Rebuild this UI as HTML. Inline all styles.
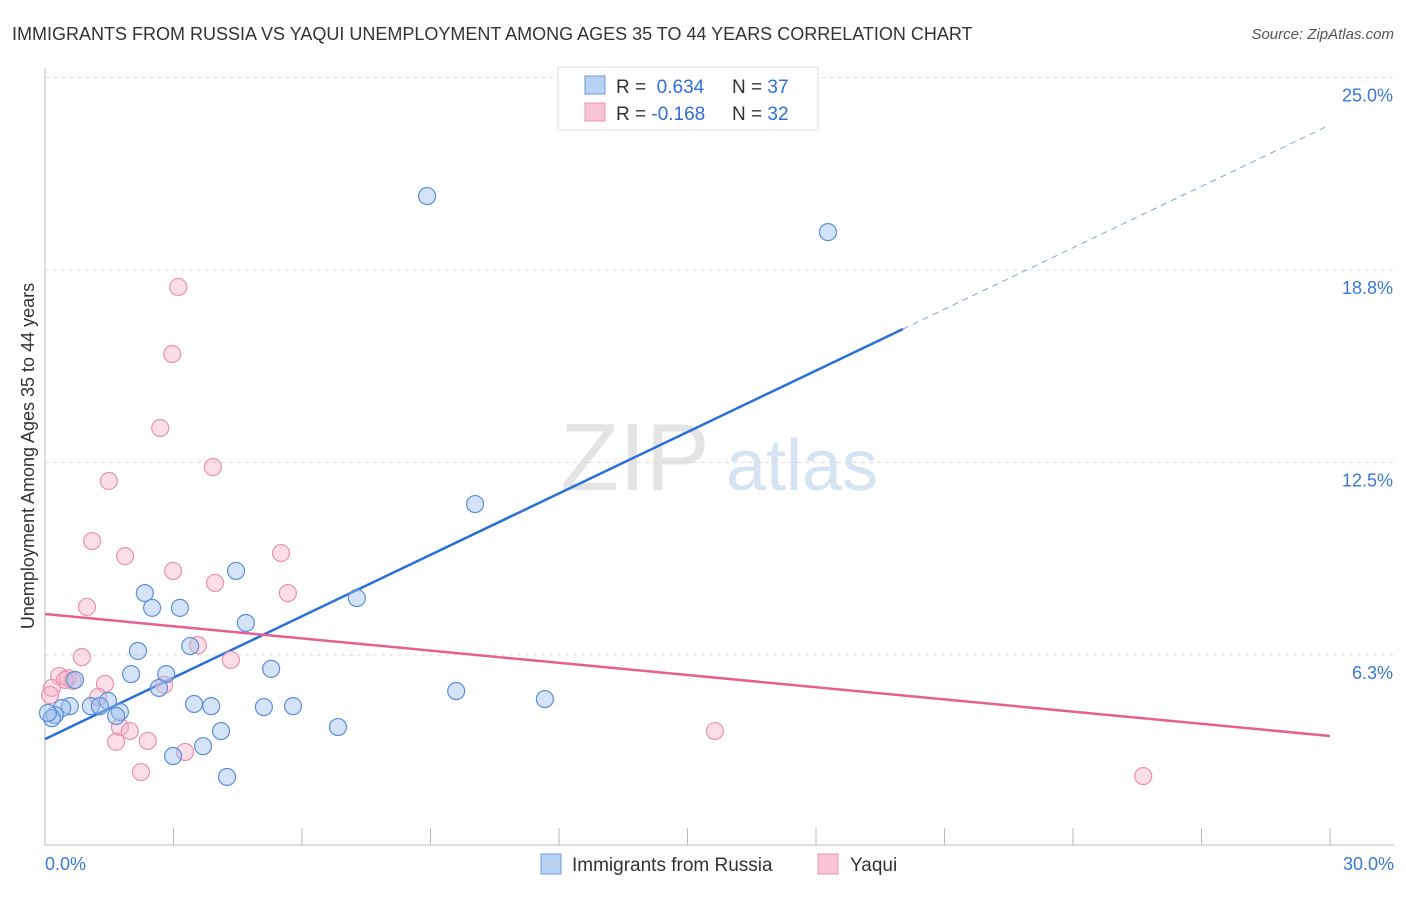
<!DOCTYPE html>
<html><head><meta charset="utf-8"><style>
body{margin:0;background:#fff;font-family:"Liberation Sans",sans-serif;}
svg text{font-family:"Liberation Sans",sans-serif;}
</style></head><body>
<svg id="c" width="1406" height="892" xmlns="http://www.w3.org/2000/svg">
<text x="12" y="40" font-size="18" fill="#333">IMMIGRANTS FROM RUSSIA VS YAQUI UNEMPLOYMENT AMONG AGES 35 TO 44 YEARS CORRELATION CHART</text>
<text x="1394" y="39" font-size="15" fill="#555" text-anchor="end" font-style="italic">Source: ZipAtlas.com</text>
<text x="635" y="490" font-size="96" fill="#e4e4e4" font-family="Liberation Serif" text-anchor="middle">ZIP</text>
<text x="802" y="490" font-size="72" fill="#d6e3f3" text-anchor="middle">atlas</text>
<text transform="translate(34,456) rotate(-90)" font-size="18" fill="#333" text-anchor="middle">Unemployment Among Ages 35 to 44 years</text>
<g id="grid"></g><g id="axes"></g><g id="lines"></g><g id="pts"></g>
<g>
<rect x="558" y="67" width="260" height="63" fill="#fff" stroke="#ddd"/>
<rect x="585" y="76" width="20" height="18" fill="#b9d1f3" stroke="#6d9be0"/>
<rect x="585" y="103" width="20" height="18" fill="#f9c5d4" stroke="#eb97b3"/>
<text x="616" y="93" font-size="19" fill="#333">R = <tspan fill="#2e6fd8">&#160;0.634</tspan><tspan x="732">N = </tspan><tspan fill="#2e6fd8">37</tspan></text>
<text x="616" y="120" font-size="19" fill="#333">R = <tspan fill="#2e6fd8">-0.168</tspan><tspan x="732">N = </tspan><tspan fill="#2e6fd8">32</tspan></text>
</g>
<g>
<rect x="541" y="854" width="20" height="20" fill="#b9d1f3" stroke="#6d9be0"/>
<text x="572" y="871" font-size="19" fill="#333">Immigrants from Russia</text>
<rect x="818" y="854" width="20" height="20" fill="#f9c5d4" stroke="#eb97b3"/>
<text x="850" y="871" font-size="19" fill="#333">Yaqui</text>
</g>
</svg>
<script>
const yTicks=[6.25,12.5,18.75,25];
const yTickLabels=["6.3%","12.5%","18.8%","25.0%"];
const xTickVals=[0,3,6,9,12,15,18,21,24,27,30];
const xEndLabels=["0.0%","30.0%"];
const russiaX=[8.92,18.28,10.04,4.46,7.28,2.33,2.50,3.15,4.69,2.17,3.39,2.01,2.83,5.28,2.66,9.60,11.67,3.48,3.88,5.11,5.79,1.47,1.07,1.28,1.75,1.66,0.58,0.40,0.23,0.16,0.07,6.84,4.11,3.69,2.99,4.25,0.70];
const russiaY=[21.15,19.98,11.15,8.98,8.10,8.26,7.78,7.78,7.29,6.38,6.54,5.63,5.63,5.80,5.18,5.08,4.82,4.66,4.59,4.56,4.59,4.76,4.59,4.59,4.40,4.27,4.59,4.53,4.30,4.20,4.37,3.91,3.78,3.29,2.97,2.29,5.44];
const yaquiX=[3.11,2.97,2.69,3.92,1.49,1.10,1.87,5.51,2.99,3.97,5.67,0.98,3.57,4.34,0.86,0.33,0.54,0.65,0.47,1.40,2.78,1.24,0.16,0.12,1.75,1.98,2.40,1.66,3.27,2.24,15.64,25.64];
const yaquiY=[18.20,16.02,13.62,12.35,11.90,9.95,9.46,9.56,8.98,8.59,8.26,7.81,6.57,6.09,6.18,5.57,5.50,5.41,5.44,5.31,5.28,4.89,5.18,4.95,3.91,3.78,3.46,3.43,3.10,2.45,3.78,2.32];
const russiaTrend=[3.52,23.46]; const russiaSolidEnd=20.03;
const yaquiTrend=[7.58,3.62];
const NS="http://www.w3.org/2000/svg";
const X=v=>45+v*(1285/30), Y=v=>847.5-v*30.8;
function mk(p,t,a){const e=document.createElementNS(NS,t);for(const k in a)e.setAttribute(k,a[k]);document.getElementById(p).appendChild(e);return e;}
yTicks.forEach((t,i)=>{
 const l=mk('grid','line',{x1:45,x2:1394,y1:Y(t),y2:Y(t),stroke:'#ddd','stroke-dasharray':'4,4'});
 
 
 const tx=mk('grid','text',{x:1393,y:Y(t)+24,'font-size':18,fill:'#3a78d4','text-anchor':'end'});
 tx.textContent=yTickLabels[i];
 
 
});
mk('grid','line',{x1:45,x2:1394,y1:Y(25),y2:Y(25),stroke:'#ddd','stroke-dasharray':'4,4'});
const ax=mk('axes','line',{x1:45,x2:45,y1:68,y2:845,stroke:'#bbb'});


const bx=mk('axes','line',{x1:45,x2:1394,y1:845,y2:845,stroke:'#bbb'});


xTickVals.forEach(v=>{
 const t=mk('axes','line',{x1:X(v),x2:X(v),y1:828,y2:845,stroke:'#bbb'});
 
 
});
[[0,'start',45],[30,'end',1394]].forEach((d,i)=>{
 const t=mk('axes','text',{x:d[2],y:870,'font-size':18,fill:'#3a78d4','text-anchor':d[1]});
 t.textContent=xEndLabels[i];
 
 
});
function pts(xs,ys,fill,stroke,name){xs.forEach((x,i)=>{
 const c=mk('pts','circle',{cx:X(x),cy:Y(ys[i]),r:8.5,fill:fill,stroke:stroke,'stroke-width':1.2});
 
 
});}
pts(yaquiX,yaquiY,'rgba(248,182,202,0.45)','#e892b0','yaqui-point');
pts(russiaX,russiaY,'rgba(160,194,240,0.45)','#5a8fd8','russia-point');
const ry=x=>russiaTrend[0]+(russiaTrend[1]-russiaTrend[0])*x/30;
const l1=mk('lines','line',{x1:X(0),y1:Y(ry(0)),x2:X(russiaSolidEnd),y2:Y(ry(russiaSolidEnd)),stroke:'#2a6fd9','stroke-width':2.5});


const l2=mk('lines','line',{x1:X(russiaSolidEnd),y1:Y(ry(russiaSolidEnd)),x2:X(30),y2:Y(ry(30)),stroke:'#7aa5e3','stroke-width':1,'stroke-dasharray':'6,5'});


const l3=mk('lines','line',{x1:X(0),y1:Y(yaquiTrend[0]),x2:X(30),y2:Y(yaquiTrend[1]),stroke:'#e5608f','stroke-width':2.5});


</script>
</body></html>
